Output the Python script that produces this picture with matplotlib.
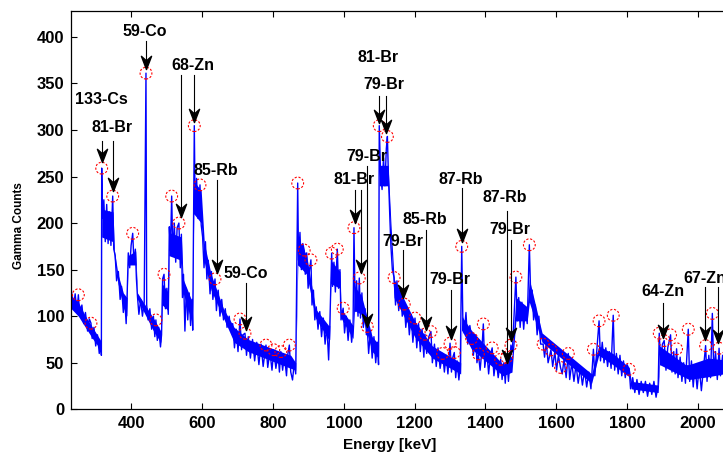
import numpy as np
import matplotlib
matplotlib.use("Agg")
import matplotlib.pyplot as plt
from matplotlib.path import Path

plt.rcParams['font.family'] = ['Liberation Sans', 'DejaVu Sans']
plt.rcParams['font.weight'] = 'bold'

# gamma spectrum trace, keV / counts, region by region
trace_keV = [
    230, 236, 241, 246, 250, 254, 260, 265, 270, 276, 281, 285.6, 289, 294, 299, 304, 309, 313, 315,
    315.9, 318, 322, 326, 330, 334, 338, 342, 347, 350, 354, 358, 363, 368, 372, 377, 381, 385, 388,
    391, 395, 399, 403.5, 407, 411, 414, 417, 421, 426, 431, 436,
    441, 443, 447, 452, 457, 462, 466, 469, 473, 477, 482, 485,
    488, 492, 496, 500, 504,
    507, 510, 513.6, 517, 521, 525, 529, 534, 538, 541, 544, 547, 551, 555, 559, 563, 567, 571, 573,
    577.5, 580, 584, 588, 593.6, 597, 601, 605, 609, 613, 617, 622, 626, 630, 636, 640, 645, 650, 655,
    660, 665, 670, 676, 681, 686, 691, 696, 701, 706.6, 711, 715, 720.7, 725, 730,
    736, 742, 748, 754, 760, 766, 772, 780, 785, 791, 797, 802, 808, 814, 818, 822, 827, 832, 838, 842,
    846, 850, 855, 860, 864,
    869.6, 872, 876, 880, 884, 888, 891, 895, 899, 903, 907, 910, 914, 918, 922, 927, 932, 937, 942, 947,
    952, 957, 960,
    965.6, 968, 972, 976, 981.5, 985, 989, 992, 998, 1002, 1007, 1012, 1017, 1022, 1026,
    1028.6, 1032, 1036, 1040, 1043.6, 1047, 1051, 1055, 1060, 1064, 1066, 1070, 1075, 1080, 1085, 1090,
    1095, 1098,
    1100, 1104, 1108, 1112, 1116, 1120, 1123, 1126, 1130, 1133, 1137, 1142, 1146, 1150, 1155, 1160, 1165,
    1170.7, 1175, 1180, 1185, 1190, 1195, 1201, 1206, 1211, 1216, 1221, 1226, 1229, 1234, 1240, 1246,
    1250, 1256, 1261, 1266, 1272, 1279, 1284, 1289, 1294, 1300, 1304, 1308, 1312, 1316, 1320, 1325, 1329,
    1333, 1336, 1340, 1345, 1350, 1356, 1361, 1366, 1372, 1376, 1380, 1385, 1390, 1394, 1398, 1404, 1409,
    1414, 1419, 1424, 1430, 1436, 1443, 1447, 1452, 1456, 1460, 1465, 1469, 1472, 1476, 1480,
    1486, 1490, 1494, 1498, 1503, 1508, 1513, 1518,
    1524, 1528, 1532, 1536, 1541, 1546, 1551, 1556, 1563, 1567, 1572, 1577, 1585, 1590, 1596, 1601, 1606,
    1612, 1617, 1622, 1628, 1634, 1638, 1644, 1650, 1656, 1662, 1668, 1674, 1680, 1686, 1692, 1698,
    1705, 1709, 1714, 1721, 1725, 1730, 1735, 1740, 1745, 1750, 1755, 1761, 1765, 1770, 1775, 1780, 1785,
    1790, 1795, 1800, 1806, 1810, 1816, 1822, 1828, 1834, 1840, 1846, 1852, 1858, 1864, 1870, 1876, 1882,
    1888,
    1891, 1895, 1900, 1905, 1910, 1915, 1923, 1927, 1932, 1936, 1940, 1944, 1950, 1955, 1960, 1965, 1973,
    1977, 1982, 1987, 1992, 1998, 2004, 2010, 2016, 2022, 2026, 2031, 2036, 2041, 2045, 2050, 2055, 2060,
    2064, 2070, 2076, 2082, 2090, 2100,
]
trace_counts = [
    128, 110, 124, 104, 123, 100, 112, 92, 104, 84, 97, 92.5, 76, 88, 68, 80, 60, 72, 58,
    259, 205, 225, 180, 220, 178, 212, 176, 229, 172, 165, 138, 148, 118, 132, 104, 118, 92, 126,
    168, 152, 176, 189, 158, 172, 140, 121, 102, 118, 100, 115,
    361, 112, 96, 108, 86, 100, 78, 96, 74, 88, 67, 80,
    140, 145, 108, 130, 102,
    196, 170, 229, 165, 200, 158, 195, 200, 152, 188, 120, 145, 84, 130, 96, 125, 90, 118, 85,
    304.6, 215, 248, 205, 241, 198, 185, 152, 180, 140, 160, 124, 148, 118, 140, 106, 128, 100, 118,
    96, 108, 88, 100, 84, 92, 66, 86, 62, 97, 64, 80, 81.7, 58, 78,
    55, 75, 52, 72, 48, 70, 46, 69, 45, 62, 42, 64, 44, 60, 40, 62, 42, 58, 36, 60,
    69, 40, 31.5, 50, 38,
    243, 160, 190, 150, 178, 171, 145, 168, 130, 150, 160.5, 112, 128, 96, 110, 86, 105, 78, 98, 70,
    90, 53, 85,
    167.7, 132, 158, 126, 172, 130, 150, 96, 108.6, 82, 100, 74, 96, 72, 88,
    195, 105, 138, 100, 141, 98, 125, 88, 108, 80, 89, 60, 84, 55, 78, 50,
    72, 48,
    304.6, 250, 236, 270, 240, 280, 293, 250, 205, 175, 150, 141.5, 112, 138, 106, 128, 100,
    113, 88, 108, 80, 102, 72, 98, 66, 92, 62, 86, 56, 80.6, 60, 78, 83.5,
    50, 70, 46, 66, 44, 60, 40, 58, 38, 71, 40, 56, 61, 34, 52, 31.5, 48,
    175, 100, 82, 104, 70, 90, 76, 58, 80, 50, 59.5, 42, 64, 91.7, 45, 62, 38,
    58, 66, 36, 55, 34, 53.7, 32, 50, 28, 56, 30, 50, 69, 62, 95,
    142, 95, 120, 88, 115, 86, 110, 92,
    176.7, 120, 128, 96, 112, 80, 100, 70, 70, 56, 72, 50, 63.8, 46, 62, 42, 58,
    45, 38, 54, 34, 60, 32, 50, 30, 48, 28, 44, 26, 42, 24, 40, 22,
    64.5, 36, 60, 95, 52, 72, 50, 66, 46, 62, 44, 101, 42, 60, 38, 58, 36,
    52, 34, 48, 43, 22, 34, 18, 32, 16, 30, 18, 30, 14, 28, 16, 30, 13,
    26,
    81.7, 48, 70, 73.8, 42, 66, 80, 40, 62, 38, 65, 34, 56, 30, 50, 28, 86,
    30, 52, 24, 48, 22, 46, 20, 44, 68.4, 30, 58, 34, 103, 40, 62, 32, 65.6,
    36, 58, 30, 55, 35, 52,
]

# dense core of the noisy continuum (keV, lower, upper)
band_keV = [230, 250, 270, 290, 313, 315, 316, 348, 352, 362, 377, 387, 390, 412, 417, 437,
            465, 483, 487, 504, 506, 541, 546, 572, 576, 597, 606, 625, 660, 690, 730, 850,
            864, 870, 895, 920, 957, 960, 963, 989, 992, 1026, 1030, 1050, 1080, 1098,
            1100, 1125, 1133, 1142, 1200, 1250, 1330, 1333, 1360, 1450, 1475, 1486, 1518,
            1524, 1560, 1700, 1720, 1760, 1806, 1812, 1888, 1892, 1965, 1975, 2030, 2100]
band_lo = [108, 100, 88, 76, 64, 64, 185, 180, 160, 135, 110, 100, 155, 155, 118, 103,
           82, 72, 112, 106, 165, 160, 125, 92, 210, 200, 158, 128, 98, 72, 62, 44,
           42, 155, 145, 98, 75, 75, 135, 130, 98, 76, 106, 102, 62, 55,
           240, 240, 178, 120, 78, 55, 38, 85, 65, 36, 40, 95, 95,
           115, 72, 28, 58, 48, 35, 22, 18, 48, 34, 32, 35, 40]
band_hi = [122, 115, 100, 88, 74, 74, 215, 212, 170, 145, 125, 120, 165, 170, 125, 113,
           96, 84, 135, 125, 190, 185, 140, 115, 245, 235, 178, 145, 108, 88, 75, 58,
           50, 185, 165, 108, 90, 90, 160, 148, 108, 90, 132, 122, 78, 70,
           262, 262, 200, 140, 95, 68, 50, 100, 85, 48, 58, 120, 110,
           140, 82, 38, 68, 60, 45, 30, 26, 68, 48, 48, 55, 52]

# detected peaks (circled)
peak_keV = [250, 285.6, 315.9, 347, 403.5, 441, 469, 492, 513.6, 534,
            577.5, 593.6, 636, 706.6, 720.7, 780, 802, 822, 846, 869.6,
            888, 907, 965.6, 981.5, 998, 1028.6, 1043.6, 1066, 1100, 1123,
            1142, 1170.7, 1201, 1229, 1246, 1279, 1300, 1312, 1333, 1361,
            1380, 1394, 1419, 1443, 1460, 1472, 1486, 1524, 1563, 1585,
            1612, 1634, 1705, 1721, 1761, 1806, 1891, 1905, 1923, 1940,
            1973, 2022, 2041, 2060]
peak_counts = [123, 92.5, 259, 229, 189, 361, 96, 145, 229, 200,
               304.6, 241, 140, 97, 81.7, 69, 64, 62, 69, 243,
               171, 160.5, 167.7, 172, 108.6, 195, 141, 89, 304.6, 293,
               141.5, 113, 98, 80.6, 83.5, 60, 71, 61, 175, 76,
               59.5, 91.7, 66, 53.7, 56, 69, 142, 176.7, 70, 63.8,
               45, 60, 64.5, 95, 101, 43, 81.7, 73.8, 80, 65,
               86, 68.4, 103, 65.6]

# isotope labels: text, centre (keV, counts)
iso_names = ["133-Cs", "81-Br", "59-Co", "68-Zn", "85-Rb", "59-Co", "81-Br", "79-Br",
             "79-Br", "81-Br", "79-Br", "85-Rb", "79-Br", "87-Rb", "87-Rb", "79-Br",
             "64-Zn", "67-Zn"]
iso_x = [314, 344, 438, 573, 639, 724, 1097, 1114,
         1064, 1028, 1167, 1229, 1300, 1331, 1455, 1468,
         1901, 2019]
iso_y = [332.6, 303, 406, 369.5, 256.6, 146, 377.8, 348.7,
         271.6, 246.6, 180, 203.5, 139, 247, 227, 192.8,
         126.5, 140.8]

# arrows: x (keV), start and tip (counts)
arrow_x = [316, 347, 441, 540, 576.6, 641, 723.5, 1100, 1119,
           1031.5, 1047.6, 1066, 1168, 1232, 1302, 1333, 1460, 1472,
           1902, 2020, 2058]
arrow_top = [288.5, 288.5, 395, 358.7, 358.7, 246.6, 135.5, 336, 336,
             235.8, 235.8, 261, 171, 192.8, 128, 237.6, 212.5, 182,
             114, 131.8, 131.8]
arrow_tip = [266, 234, 365, 207, 308, 146, 85, 307.5, 297,
             200, 146, 88.8, 119, 85.3, 76, 180, 49.5, 73.6,
             76.3, 74.5, 71]

assert len(trace_keV) == len(trace_counts)
assert len(band_keV) == len(band_lo) == len(band_hi)

fig = plt.figure(figsize=(7.23, 4.55), dpi=100)
ax = fig.add_axes([0.0986, 0.1004, 0.9645, 0.876])

ax.fill_between(band_keV, band_lo, band_hi, color='#0000ff', lw=0, zorder=1)
ax.plot(trace_keV, trace_counts, color='#0000ff', lw=1.0, zorder=2)
ax.scatter(peak_keV, peak_counts, s=72, facecolors='none', edgecolors='#ff0000',
           linewidths=0.8, linestyles=(0, (2.0, 1.5)), zorder=3)

# arrowhead with a notched back, tip at the origin
head = Path([(0, 0), (-5, 13), (0, 8.5), (5, 13), (0, 0)],
            [Path.MOVETO, Path.LINETO, Path.LINETO, Path.LINETO, Path.CLOSEPOLY])
for x, y0, y1 in zip(arrow_x, arrow_top, arrow_tip):
    ax.plot([x, x], [y0, y1], color='black', lw=0.8, zorder=4)
    ax.plot([x], [y1], marker=head, ms=19, color='black', mec='black', zorder=5)

for name, x, y in zip(iso_names, iso_x, iso_y):
    ax.text(x, y, name, ha='center', va='center', fontsize=11.5, zorder=6)

ax.set_xlim(230, 2200)
ax.set_ylim(0, 428)
ax.set_xticks(np.arange(400, 2201, 200))
ax.set_yticks(np.arange(0, 401, 50))
ax.tick_params(direction='in', length=4, width=0.8, labelsize=12, top=True, right=True, pad=5)
for s in ax.spines.values():
    s.set_linewidth(0.9)

fig.text(19 / 723, 1 - 226 / 455, 'Gamma Counts', rotation=90, ha='center', va='center',
         fontsize=8.5)
fig.text(390 / 723, 1 - 445 / 455, 'Energy [keV]', ha='center', va='center', fontsize=11)

fig.savefig('out.png', dpi=100)
